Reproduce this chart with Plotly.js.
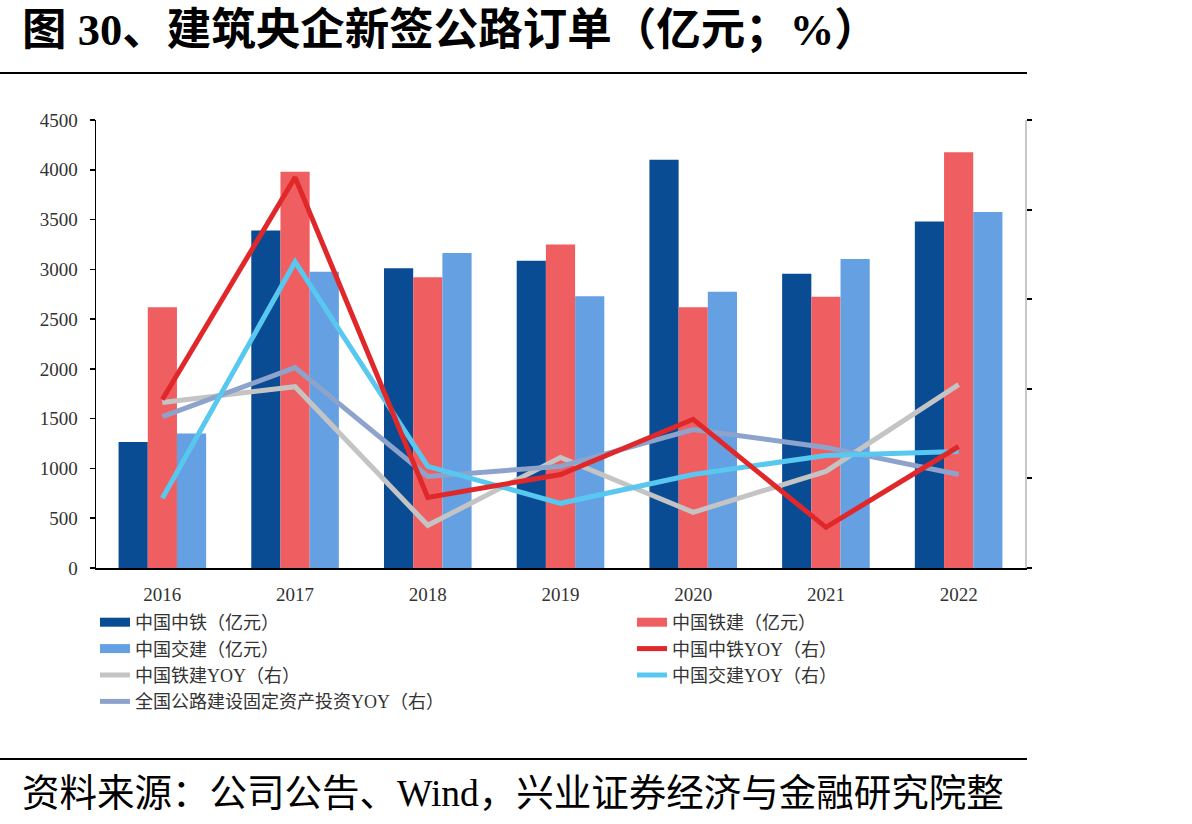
<!DOCTYPE html>
<html>
<head>
<meta charset="utf-8">
<script src="https://cdn.plot.ly/plotly-3.0.1.min.js"></script>
<style>
html,body{margin:0;padding:0;background:#fff;}
#chart{width:1192px;height:824px;}
</style>
</head>
<body>
<div id="chart"></div>
<script>
// Categories
const years = ['2016', '2017', '2018', '2019', '2020', '2021', '2022'];
// New highway orders (亿元)
const crecOrders = [1265, 3390, 3010, 3085, 4100, 2955, 3480];   // 中国中铁
const crccOrders = [2620, 3980, 2920, 3250, 2620, 2725, 4175];   // 中国铁建
const cccOrders  = [1350, 2975, 3165, 2730, 2775, 3105, 3575];   // 中国交建
// YOY (%, right axis)
const crecYoy = [44, 168, -10.6, 2.2, 33, -27.3, 17.8];
const crccYoy = [42.3, 51.2, -26.2, 11.7, -18.9, 3.9, 52.3];
const cccYoy  = [-11.1, 120.8, 6.7, -13.9, 2.2, 12.8, 15.0];
const nationalYoy = [34.5, 61.8, 1.1, 6.7, 27.3, 17.3, 2.2];

const names = {
  crec: '中国中铁（亿元）',
  crcc: '中国铁建（亿元）',
  ccc: '中国交建（亿元）',
  crecY: '中国中铁YOY（右）',
  crccY: '中国铁建YOY（右）',
  cccY: '中国交建YOY（右）',
  nat: '全国公路建设固定资产投资YOY（右）'
};

const C = {
  crec: '#0A4C94', crcc: '#EF5F62', ccc: '#64A0E2',
  crecY: '#E0282B', crccY: '#C4C4C4', cccY: '#58C8F0', nat: '#8EA3CC'
};

const serif = 'Liberation Serif, "Noto Sans CJK SC", serif';

function bar(y, color, name) {
  return {type: 'bar', x: years, y: y, name: name, marker: {color: color, line: {width: 0}},
          showlegend: false, yaxis: 'y', hoverinfo: 'skip'};
}
function legendBox(color, name, rank, lg) {
  return {type: 'scatter', mode: 'lines', x: [null], y: [null], name: name, legend: lg,
          line: {color: color, width: 9}, legendrank: rank, showlegend: true, hoverinfo: 'skip'};
}
function line(y, color, name, rank, lg) {
  return {type: 'scatter', mode: 'lines', x: years, y: y, name: name, yaxis: 'y2', legend: lg,
          line: {color: color, width: 5}, legendrank: rank, hoverinfo: 'skip'};
}

const data = [
  bar(crecOrders, C.crec, names.crec),
  bar(crccOrders, C.crcc, names.crcc),
  bar(cccOrders, C.ccc, names.ccc),
  legendBox(C.crec, names.crec, 1, 'legend'),
  legendBox(C.crcc, names.crcc, 1, 'legend2'),
  legendBox(C.ccc, names.ccc, 2, 'legend'),
  line(crccYoy, C.crccY, names.crccY, 3, 'legend'),
  line(nationalYoy, C.nat, names.nat, 4, 'legend'),
  line(cccYoy, C.cccY, names.cccY, 3, 'legend2'),
  line(crecYoy, C.crecY, names.crecY, 2, 'legend2')
];

const PW = 929, PH = 448, L = 96, T = 120;
const px = v => (v - L) / PW;
const py = v => (T + PH - v) / PH;

const legendCommon = {
  orientation: 'v', xanchor: 'left', yanchor: 'top', traceorder: 'normal',
  font: {family: serif, size: 18, color: '#333'}, bgcolor: 'rgba(0,0,0,0)',
  itemclick: false, itemdoubleclick: false, tracegroupgap: 0
};

const layout = {
  width: 1192, height: 824,
  margin: {l: L, r: 1192 - L - PW, t: T, b: 824 - T - PH, pad: 0},
  paper_bgcolor: '#fff', plot_bgcolor: '#fff',
  barmode: 'group', bargap: 0.34, bargroupgap: 0,
  font: {family: serif, color: '#333'},
  xaxis: {
    type: 'category', showline: true, linecolor: '#000', linewidth: 2,
    ticks: '', showgrid: false, zeroline: false,
    tickfont: {family: serif, size: 19, color: '#333'}, ticklabelstandoff: 8
  },
  yaxis: {
    range: [0, 4500], dtick: 500, showline: true, linecolor: '#000', linewidth: 1.5,
    ticks: 'outside', ticklen: 5, tickcolor: '#000', tickwidth: 1.5,
    showgrid: false, zeroline: false,
    tickfont: {family: serif, size: 19, color: '#333'}, ticklabelstandoff: 8
  },
  yaxis2: {
    overlaying: 'y', side: 'right', range: [-50, 200], dtick: 50,
    showline: true, linecolor: '#C8C8C8', linewidth: 1.5,
    ticks: 'outside', ticklen: 5, tickcolor: '#000', tickwidth: 2,
    showticklabels: false, showgrid: false, zeroline: false
  },
  legend: Object.assign({x: px(95), y: py(604)}, legendCommon),
  legend2: Object.assign({x: px(632), y: py(604)}, legendCommon),
  shapes: [
    {type: 'line', xref: 'paper', yref: 'paper', x0: px(0), x1: px(1027), y0: py(73), y1: py(73),
     line: {color: '#000', width: 2}},
    {type: 'line', xref: 'paper', yref: 'paper', x0: px(0), x1: px(1027), y0: py(759), y1: py(759),
     line: {color: '#000', width: 2}}
  ],
  annotations: [
    {text: '<b>图 30、建筑央企新签公路订单（亿元；%）</b>', xref: 'paper', yref: 'paper',
     x: px(20), y: py(30), xanchor: 'left', yanchor: 'middle', showarrow: false,
     font: {family: serif, size: 44.5, color: '#000'}},
    {text: '资料来源：公司公告、Wind，兴业证券经济与金融研究院整', xref: 'paper', yref: 'paper',
     x: px(20), y: py(793), xanchor: 'left', yanchor: 'middle', showarrow: false,
     font: {family: serif, size: 37.5, color: '#000'}}
  ]
};

Plotly.newPlot('chart', data, layout, {displayModeBar: false, staticPlot: true});
</script>
</body>
</html>
